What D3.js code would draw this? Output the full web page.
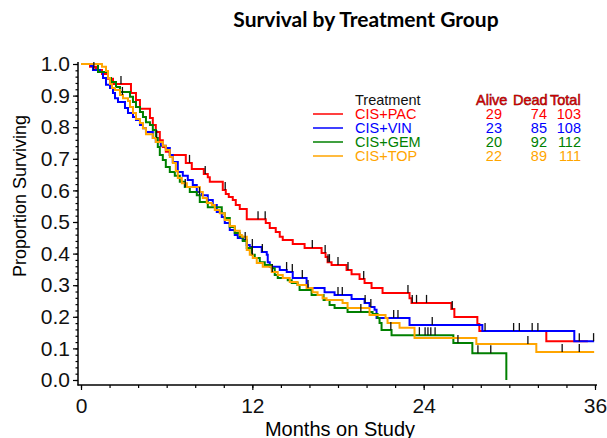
<!DOCTYPE html>
<html>
<head>
<meta charset="utf-8">
<script src="https://cdn.jsdelivr.net/npm/d3@7"></script>
<style>
  body { margin: 0; background: #fff; }
  svg { display: block; font-family: "Liberation Sans", Arial, sans-serif; }
</style>
</head>
<body>
<svg id="chart" width="607" height="438"></svg>
<script>
// treatment groups and legend table
var groups = ["CIS+PAC", "CIS+VIN", "CIS+GEM", "CIS+TOP"];
var alive = [29, 23, 20, 22];
var dead = [74, 85, 92, 89];
var total = [103, 108, 112, 111];

// Kaplan-Meier steps: [month, survival after the drop]
var pacSteps = [[0.63,0.991],[1.05,0.981],[1.47,0.968],[1.89,0.953],[2.24,0.937],[3.50,0.908],[3.85,0.886],[4.13,0.858],
  [4.83,0.829],[5.03,0.807],[5.24,0.785],[5.52,0.759],[5.73,0.737],[5.94,0.722],[6.22,0.712],[7.34,0.687],[7.76,0.668],
  [8.60,0.652],[8.88,0.642],[9.02,0.627],[9.93,0.601],[10.14,0.589],[10.35,0.579],[10.63,0.570],[10.84,0.554],[11.12,0.541],
  [11.61,0.509],[12.94,0.497],[13.22,0.481],[13.64,0.468],[13.92,0.453],[14.13,0.443],[14.83,0.430],[15.66,0.418],
  [16.85,0.402],[17.13,0.389],[17.27,0.373],[17.55,0.364],[18.60,0.348],[18.95,0.335],[19.51,0.320],[19.86,0.307],
  [20.35,0.291],[21.12,0.275],[23.01,0.259],[23.15,0.244],[25.94,0.225],[26.15,0.199],[27.76,0.177],[27.90,0.155],
  [32.59,0.123]];
var vinSteps = [[0.70,0.994],[0.84,0.981],[1.33,0.975],[1.54,0.956],[1.75,0.934],[2.03,0.924],[2.24,0.908],[2.38,0.892],
  [2.59,0.880],[3.08,0.861],[3.29,0.845],[3.64,0.832],[3.85,0.823],[4.13,0.807],[4.34,0.797],[4.55,0.785],[5.03,0.766],
  [5.24,0.753],[5.59,0.741],[5.94,0.734],[6.22,0.712],[6.43,0.690],[6.78,0.658],[7.13,0.646],[7.48,0.633],[7.83,0.617],
  [8.11,0.595],[8.46,0.585],[8.88,0.570],[9.23,0.554],[9.51,0.532],[9.86,0.516],[10.07,0.497],[10.42,0.475],[10.77,0.459],
  [10.98,0.449],[11.33,0.443],[11.61,0.427],[11.82,0.421],[12.66,0.405],[13.01,0.396],[13.08,0.373],[13.22,0.358],
  [13.92,0.348],[14.41,0.342],[14.83,0.323],[15.80,0.301],[15.87,0.291],[17.06,0.278],[17.76,0.269],[18.95,0.256],
  [19.86,0.244],[20.21,0.231],[20.56,0.222],[20.70,0.196],[23.01,0.174],[28.11,0.155],[34.55,0.123]];
var gemSteps = [[1.19,0.975],[1.89,0.956],[2.10,0.943],[2.45,0.927],[2.73,0.911],[3.43,0.896],[3.64,0.880],[3.85,0.864],
  [4.13,0.848],[4.34,0.832],[4.55,0.816],[4.83,0.807],[5.03,0.791],[5.24,0.766],[5.38,0.737],[5.52,0.712],[5.73,0.696],
  [5.94,0.674],[6.22,0.658],[6.57,0.646],[6.92,0.627],[7.27,0.611],[7.62,0.595],[8.11,0.585],[8.32,0.563],[8.88,0.547],
  [9.86,0.528],[10.07,0.513],[10.42,0.484],[10.77,0.465],[11.12,0.453],[11.33,0.440],[11.61,0.418],[11.96,0.396],
  [12.17,0.386],[12.52,0.373],[12.87,0.364],[13.36,0.354],[13.57,0.332],[13.78,0.323],[14.48,0.316],[14.76,0.307],
  [15.17,0.301],[15.31,0.285],[16.15,0.269],[16.99,0.253],[17.41,0.237],[17.76,0.228],[18.67,0.215],[20.42,0.209],
  [20.77,0.196],[20.91,0.180],[21.05,0.158],[21.75,0.142],[26.08,0.117],[27.41,0.085],[29.79,0.0]];
var topSteps = [[1.47,0.991],[1.75,0.978],[1.89,0.956],[2.03,0.937],[2.17,0.924],[2.38,0.918],[2.73,0.902],[2.94,0.892],
  [3.29,0.883],[3.43,0.864],[3.64,0.845],[3.85,0.826],[4.13,0.813],[4.34,0.797],[4.55,0.778],[5.03,0.766],[5.24,0.753],
  [5.73,0.741],[5.94,0.728],[6.22,0.706],[6.43,0.687],[6.64,0.661],[6.78,0.639],[7.06,0.623],[7.41,0.611],[8.32,0.595],
  [8.53,0.576],[8.81,0.560],[9.16,0.554],[9.37,0.538],[9.72,0.528],[10.07,0.506],[10.42,0.487],[10.77,0.472],[11.12,0.459],
  [11.26,0.453],[11.61,0.411],[11.82,0.396],[12.03,0.386],[12.31,0.370],[12.73,0.358],[13.36,0.342],[13.78,0.332],
  [14.13,0.323],[14.62,0.310],[15.17,0.301],[15.80,0.291],[16.22,0.278],[16.57,0.269],[16.92,0.259],[17.20,0.253],
  [18.32,0.244],[18.67,0.228],[20.21,0.206],[21.33,0.196],[21.47,0.180],[22.31,0.165],[23.36,0.133],[27.69,0.114],
  [31.89,0.089]];
var lastTimes = [35.5, 35.94, 29.79, 35.94];

// censored times (months)
var pacCensor = [2.8, 7.6, 8.7, 10.1, 12.4, 12.9, 16.2, 17.1, 17.3, 17.4, 18.0, 18.7, 19.8, 22.9, 23.2, 23.5, 24.2, 26.0];
var vinCensor = [0.9, 11.5, 12.0, 12.7, 14.4, 14.8, 15.5, 15.9, 18.0, 18.3, 19.9, 20.3, 21.9, 22.2, 24.6, 28.3, 30.3,
  30.7, 31.6, 32.0, 34.9, 35.9];
var gemCensor = [5.3, 7.3, 8.3, 19.6, 21.7, 23.7, 24.1, 24.3, 24.5, 24.8, 26.4, 27.8, 28.7];
var topCensor = [2.9, 12.0, 13.4, 31.3, 33.7, 34.9];

var xTicks = [0, 12, 24, 36];
var yTicks = [0, 0.1, 0.2, 0.3, 0.4, 0.5, 0.6, 0.7, 0.8, 0.9, 1.0];

var colors = ["#ff0000", "#0000ff", "#008000", "#ffa500"];
var steps = [pacSteps, vinSteps, gemSteps, topSteps];
var censors = [pacCensor, vinCensor, gemCensor, topCensor];

var svg = d3.select("#chart");
var x = d3.scaleLinear().domain([0, 36]).range([81, 595]);
var y = d3.scaleLinear().domain([0, 1]).range([380, 64]);

// survival at time t from a step list
var survAt = function (st, t) {
    var s = 1;
    for (var i = 0; i < st.length; i++)
        if (st[i][0] <= t) s = st[i][1];
    return s;
};

// title and axis titles
svg.append("text")
    .attr("x", 366).attr("y", 27)
    .attr("text-anchor", "middle")
    .style("font-family", "Lato, 'Open Sans', sans-serif")
    .style("font-weight", "bold")
    .style("font-size", "21px")
    .text("Survival by Treatment Group");

svg.append("text")
    .attr("transform", "translate(26,196) rotate(-90)")
    .attr("text-anchor", "middle")
    .style("font-size", "18px")
    .text("Proportion Surviving");

svg.append("text")
    .attr("x", 340).attr("y", 436)
    .attr("text-anchor", "middle")
    .style("font-size", "20px")
    .text("Months on Study");

// axes
var yAxis = svg.append("g").attr("transform", "translate(78,0)")
    .call(d3.axisLeft(y).tickValues(yTicks).tickFormat(d3.format(".1f")).tickSize(5).tickSizeOuter(0).tickPadding(3));
var yMinor = svg.append("g").attr("transform", "translate(78,0)")
    .call(d3.axisLeft(y).tickValues(d3.range(0, 1.001, 0.02)).tickFormat("").tickSize(2.5).tickSizeOuter(0));
var xAxis = svg.append("g").attr("transform", "translate(0,385)")
    .call(d3.axisBottom(x).tickValues(xTicks).tickSize(5).tickSizeOuter(0).tickPadding(8));
var xMinor = svg.append("g").attr("transform", "translate(0,385)")
    .call(d3.axisBottom(x).tickValues(d3.range(0, 36.1, 2)).tickFormat("").tickSize(3).tickSizeOuter(0));

svg.selectAll(".domain").remove();
svg.selectAll(".tick line").attr("stroke", "#000").attr("stroke-width", 1.2);
yAxis.selectAll("text").style("font-size", "21px").style("font-family", "'Liberation Sans', Arial, sans-serif").attr("fill", "#111");
xAxis.selectAll("text").style("font-size", "21px").style("font-family", "'Liberation Sans', Arial, sans-serif").attr("fill", "#111");

svg.append("line").attr("x1", 78).attr("y1", 62).attr("x2", 78).attr("y2", 385.5)
    .attr("stroke", "#000").attr("stroke-width", 1.5);
svg.append("line").attr("x1", 77.5).attr("y1", 385).attr("x2", 597).attr("y2", 385)
    .attr("stroke", "#000").attr("stroke-width", 1.5);

// survival curves
var line = d3.line()
    .x(function (d) { return x(d[0]); })
    .y(function (d) { return y(d[1]); })
    .curve(d3.curveStepAfter);

steps.forEach(function (st, i) {
    var pts = [[0, 1]].concat(st);
    pts.push([lastTimes[i], st[st.length - 1][1]]);
    svg.append("path")
        .datum(pts)
        .attr("d", line)
        .attr("fill", "none")
        .attr("stroke", colors[i])
        .attr("stroke-width", 2);
});

// censor marks
censors.forEach(function (cs, i) {
    svg.append("g").selectAll("line")
        .data(cs)
        .enter().append("line")
        .attr("x1", function (d) { return x(d); })
        .attr("x2", function (d) { return x(d); })
        .attr("y1", function (d) { return y(survAt(steps[i], d)) - 8; })
        .attr("y2", function (d) { return y(survAt(steps[i], d)); })
        .attr("stroke", "#111")
        .attr("stroke-width", 1.3);
});

// legend
var leg = svg.append("g").style("font-size", "14.5px");
leg.append("text").attr("x", 355).attr("y", 105).attr("fill", "#111").text("Treatment");
[["Alive", 476], ["Dead", 513], ["Total", 550]].forEach(function (h) {
    leg.append("text").attr("x", h[1]).attr("y", 105).attr("fill", "#cc0000")
        .attr("stroke", "#600000").attr("stroke-width", 0.5).style("paint-order", "stroke").text(h[0]);
});
groups.forEach(function (g, i) {
    var cy = 114 + i * 14;
    leg.append("line").attr("x1", 313).attr("x2", 343).attr("y1", cy).attr("y2", cy)
        .attr("stroke", colors[i]).attr("stroke-width", 1.5);
    leg.append("text").attr("x", 355).attr("y", cy + 5).attr("fill", colors[i]).text(g);
    leg.append("text").attr("x", 502).attr("y", cy + 5).attr("text-anchor", "end").attr("fill", colors[i]).text(alive[i]);
    leg.append("text").attr("x", 547).attr("y", cy + 5).attr("text-anchor", "end").attr("fill", colors[i]).text(dead[i]);
    leg.append("text").attr("x", 581).attr("y", cy + 5).attr("text-anchor", "end").attr("fill", colors[i]).text(total[i]);
});
</script>
</body>
</html>
